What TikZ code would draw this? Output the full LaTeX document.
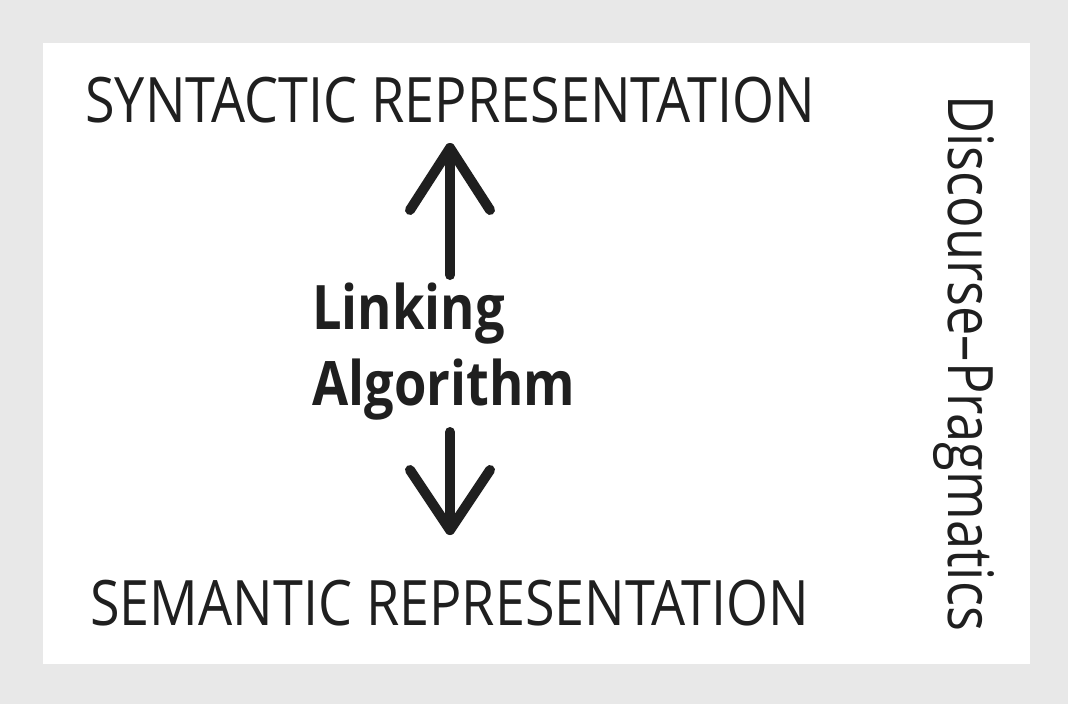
\documentclass[tikz,border=0pt]{standalone}
\usepackage{fontspec}
\setmainfont{Open Sans}
\newcommand{\nrw}[2][0.86]{\scalebox{#1}[1]{#2}}
\begin{document}
\begin{tikzpicture}[x=0.75pt,y=-0.75pt,
  lbl/.style={inner sep=0pt,font=\fontsize{47}{50}\selectfont,text=black!88},
  bold/.style={inner sep=0pt,font=\fontsize{46}{57}\selectfont\bfseries,text=black!88,align=left},
  arr/.style={line width=7.5pt,line cap=round,line join=round,draw=black!88}]
\fill[gray!18!white] (0,0) rectangle (1068,704);
\fill[white] (43,43) rectangle (1030,664);
\useasboundingbox (0,0) rectangle (1068,704);
\node[lbl,anchor=base west] (syn) at (85,122) {\nrw{SYNTACTIC REPRESENTATION}};
\node[lbl,anchor=base west] (sem) at (90,625) {\nrw{SEMANTIC REPRESENTATION}};
\node[lbl,anchor=base west,rotate=-90] (dp) at (948,95) {\nrw[0.835]{Discourse–Pragmatics}};
\node[bold,anchor=north west] (link) at (312,283) {\nrw[0.855]{Linking}\\\nrw[0.855]{Algorithm}};
\coordinate (ut) at (450,148);
\coordinate (ub) at (450,275);
\coordinate (dt) at (450,432);
\coordinate (db) at (450,530);
\draw[arr] (ub) -- (ut);
\draw[arr] ([xshift=-30]ut |- 0,210) -- (ut) -- ([xshift=30]ut |- 0,210);
\draw[arr] (dt) -- (db);
\draw[arr] ([xshift=-30]db |- 0,470) -- (db) -- ([xshift=30]db |- 0,470);
\end{tikzpicture}
\end{document}
